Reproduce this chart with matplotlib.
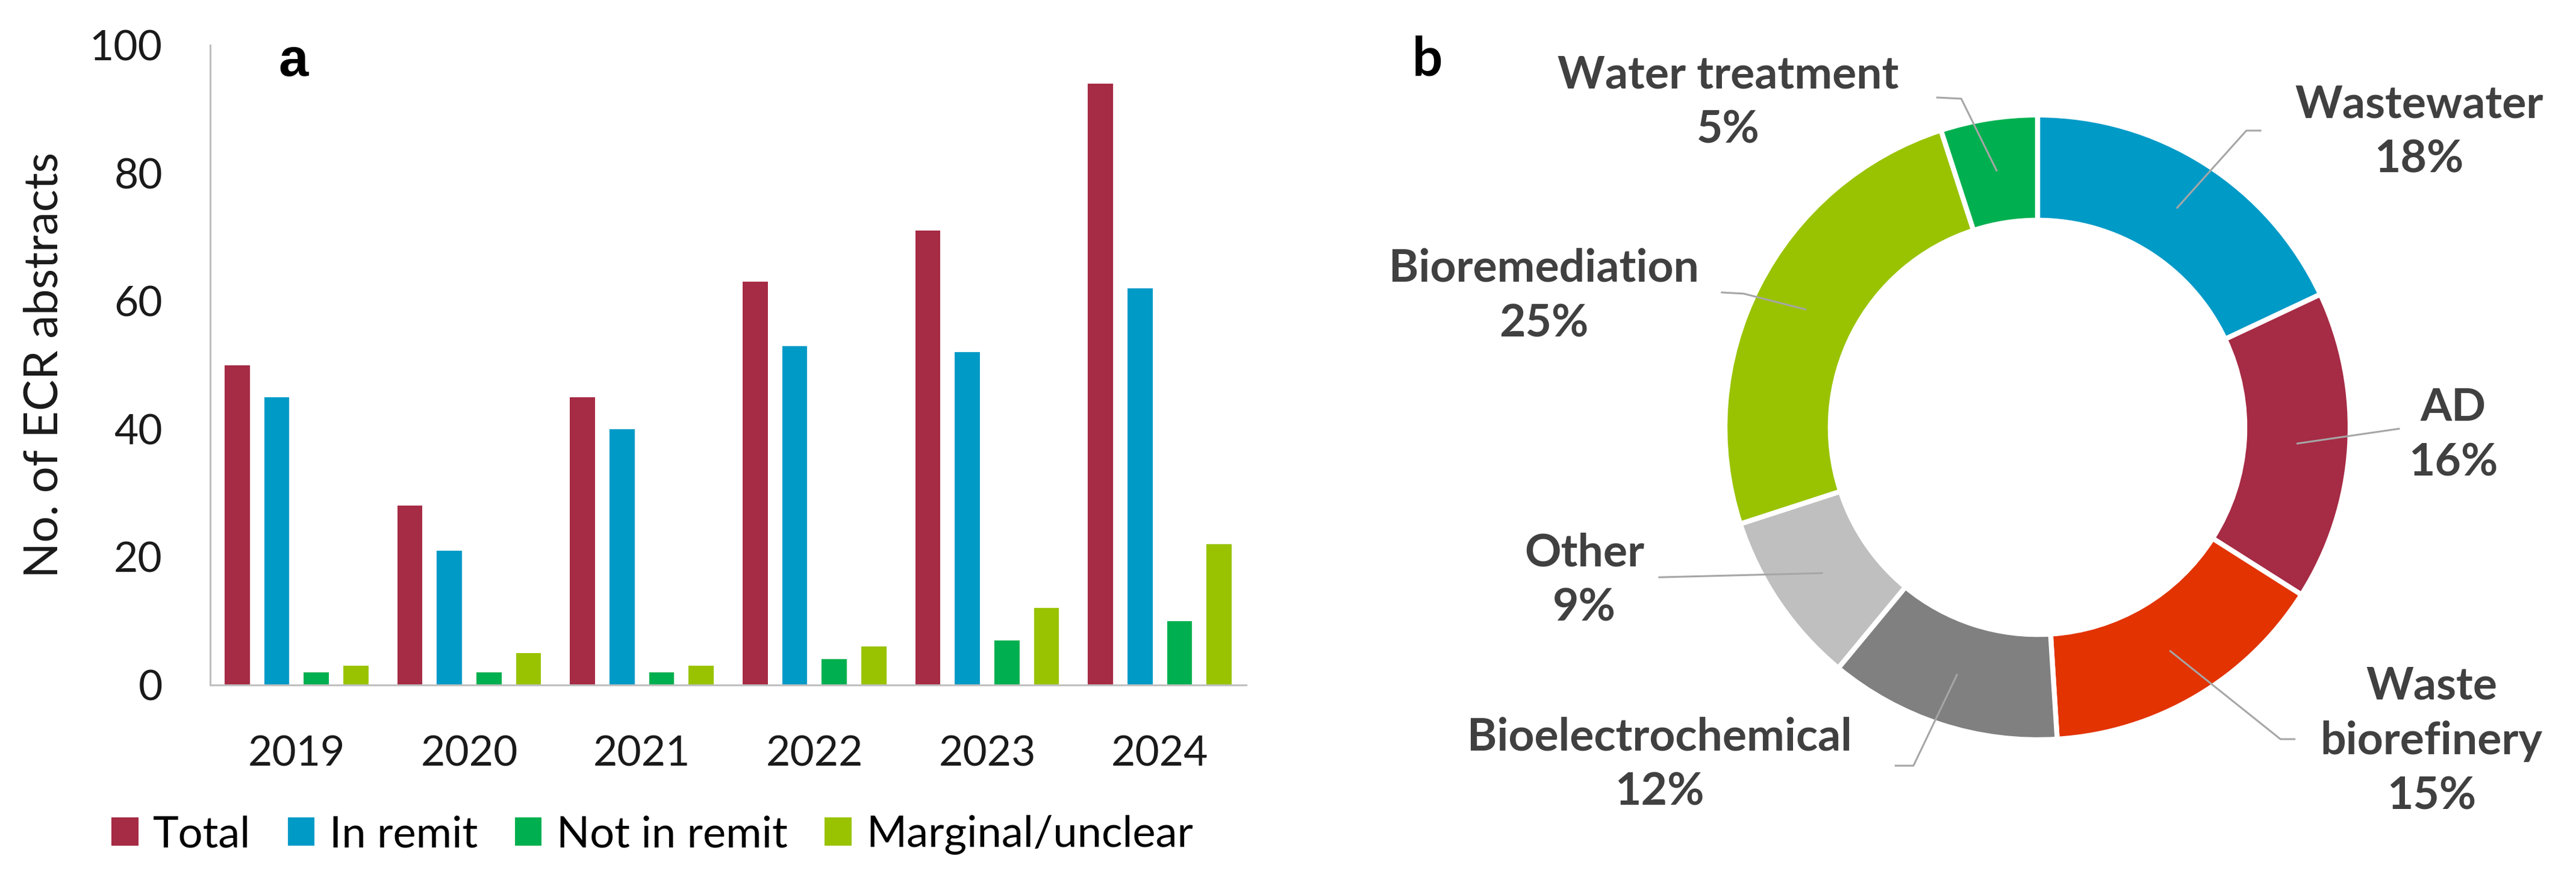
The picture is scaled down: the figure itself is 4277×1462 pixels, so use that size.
import numpy as np
import matplotlib
matplotlib.use("Agg")
import matplotlib.pyplot as plt


plt.rcParams['font.family'] = ['Lato', 'DejaVu Sans']

# Panel a data
years = ['2019', '2020', '2021', '2022', '2023', '2024']
series_names = ['Total', 'In remit', 'Not in remit', 'Marginal/unclear']
total = [50, 28, 45, 63, 71, 94]
in_remit = [45, 21, 40, 53, 52, 62]
not_in_remit = [2, 2, 2, 4, 7, 10]
marginal = [3, 5, 3, 6, 12, 22]
bar_colors = ['#A62B45', '#009AC7', '#00B050', '#99C300']

# Panel b data
topics = ['Wastewater', 'AD', 'Waste\nbiorefinery', 'Bioelectrochemical',
          'Other', 'Bioremediation', 'Water treatment']
shares = [18, 16, 15, 12, 9, 25, 5]
pie_colors = ['#009AC7', '#A62B45', '#E23300', '#808080',
              '#BFBFBF', '#99C300', '#00B050']

# label block centres and leader polylines (pie radius units)
label_pos = [(1.22, 0.945), (1.33, -0.025), (1.26, -1.005), (-1.21, -1.08),
             (-1.45, -0.49), (-1.58, 0.42), (-0.99, 1.04)]
leader_pts = [[(0.716, 0.950), (0.668, 0.950)],
              [(1.159, -0.004)],
              [(0.825, -0.998), (0.777, -0.998)],
              [(-0.457, -1.083), (-0.397, -1.083)],
              [(-1.213, -0.480)],
              [(-1.013, 0.432), (-0.940, 0.428)],
              [(-0.324, 1.056), (-0.244, 1.052)]]

W, H = 4277, 1462
fig = plt.figure(figsize=(W / 100, H / 100), dpi=100)

# ---- panel a ----
ax_left, ax_right, ax_top, ax_bot = 349, 2069, 75, 1138
ax = fig.add_axes([ax_left / W, 1 - ax_bot / H, (ax_right - ax_left) / W, (ax_bot - ax_top) / H])

x = np.arange(len(years))
pitch = 0.229
width = 0.145
all_series = [total, in_remit, not_in_remit, marginal]
for i, (vals, name, col) in enumerate(zip(all_series, series_names, bar_colors)):
    ax.bar(x + (i - 1.5) * pitch, vals, width=width, color=col, label=name)

ax.set_xlim(-0.5, 5.5)
ax.set_ylim(0, 100)
ax.set_yticks(range(0, 101, 20))
ax.set_xticks(x)
ax.set_xticklabels(years)
ax.tick_params(axis='both', length=0, labelsize=50, colors='#1a1a1a')
ax.tick_params(axis='y', pad=57)
ax.tick_params(axis='x', pad=60)
for s in ['top', 'right']:
    ax.spines[s].set_visible(False)
for s in ['left', 'bottom']:
    ax.spines[s].set_color('#BFBFBF')
    ax.spines[s].set_linewidth(2.2)
ax.set_ylabel('No. of ECR abstracts', fontsize=56, color='#1a1a1a')
ax.yaxis.set_label_coords((110 - ax_left) / (ax_right - ax_left), 0.5)

fig.text(487 / W, 1 - 103 / H, 'a', fontsize=64, fontweight='bold',
         family='Liberation Sans', ha='center', va='center')

handles, labels = ax.get_legend_handles_labels()
fig.legend(handles, labels, loc='center', bbox_to_anchor=(1083 / W, 1 - 1387 / H),
           ncol=4, frameon=False, fontsize=52, handlelength=0.62, handleheight=0.62,
           handletextpad=0.34, columnspacing=0.85, borderaxespad=0)

# ---- panel b ----
cx, cy, r = 3383, 710, 519
px0 = 2200
ax2 = fig.add_axes([px0 / W, 0, (W - px0) / W, 1])
wedges, _ = ax2.pie(shares, colors=pie_colors, startangle=90, counterclock=False,
                    radius=1, wedgeprops=dict(width=0.337, edgecolor='white', linewidth=6))
ax2.set_xlim((px0 - cx) / r, (W - cx) / r)
ax2.set_ylim((cy - H) / r, cy / r)
ax2.set_aspect('auto')

cum = np.cumsum([0] + shares)
total_share = sum(shares)
for i, name in enumerate(topics):
    mid = np.deg2rad(90 - 360 * (cum[i] + shares[i] / 2) / total_share)
    start = (0.83 * np.cos(mid), 0.83 * np.sin(mid))
    pts = [start] + leader_pts[i][::-1]
    ax2.plot([p[0] for p in pts], [p[1] for p in pts], color='#A6A6A6', lw=2.2,
             solid_capstyle='butt', zorder=3)
    lx, ly = label_pos[i]
    ax2.text(lx, ly, f"{name}\n{shares[i]}%", ha='center', va='center', fontsize=54,
             fontweight='bold', color='#404040', linespacing=1.4)

fig.text(2370 / W, 1 - 100 / H, 'b', fontsize=64, fontweight='bold',
         ha='center', va='center')

fig.savefig('out.png', dpi=100)
